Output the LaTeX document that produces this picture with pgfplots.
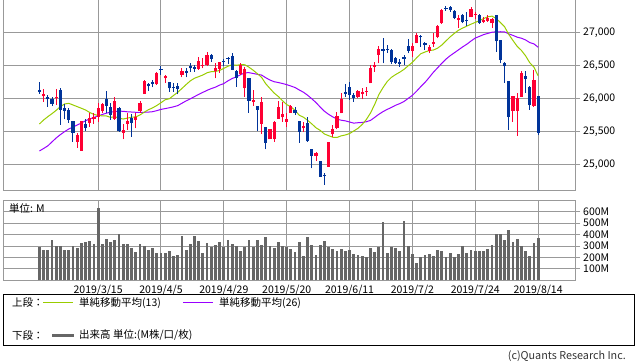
\documentclass[border=0pt]{standalone}
\usepackage{fontspec}
\setmainfont{Noto Sans CJK JP}
\usepackage{pgfplots}
\usepackage{pgfplotstable}
\pgfplotsset{compat=1.18}
\definecolor{gridgray}{HTML}{999999}
\definecolor{upc}{HTML}{FF0033}
\definecolor{dnc}{HTML}{003399}
\definecolor{smaA}{HTML}{99CC00}
\definecolor{smaB}{HTML}{9900FF}
\definecolor{volc}{HTML}{666666}
\newcommand{\tlf}{\fontsize{10.5bp}{12bp}\selectfont}

\pgfplotstableread{
i O H L C
1 26030 26146 25950 26058
4 26000 26136 25899 26026
9 25343 25480 25253 25450
10 25207 25662 25207 25651
12 25631 25783 25566 25703
13 25682 25773 25611 25710
14 25722 25924 25646 25849
15 25808 25924 25783 25914
18 25682 26025 25672 25963
20 25480 25611 25379 25517
21 25611 25773 25520 25658
23 25672 25773 25545 25717
24 25813 25960 25783 25929
25 26066 26278 26066 26258
28 26212 26404 26202 26385
30 26303 26354 26237 26341
34 26354 26455 26318 26412
38 26444 26621 26429 26560
39 26495 26606 26455 26511
40 26505 26697 26490 26656
42 26419 26540 26303 26462
43 26444 26556 26389 26543
48 26369 26530 26354 26505
49 26152 26480 26025 26438
51 25939 26126 25884 25967
53 25611 26015 25460 25942
55 25379 25540 25379 25532
56 25389 25657 25343 25648
57 25692 25960 25692 25863
58 25712 25950 25646 25764
59 25646 25773 25561 25680
60 25783 25899 25783 25877
63 25545 25646 25495 25586
66 25126 25192 25056 25170
69 24965 25343 24965 25332
70 25455 25596 25419 25540
71 25545 25798 25530 25732
72 25773 26076 25773 25984
76 26025 26126 26000 26107
77 26066 26152 25985 26090
78 26100 26167 26040 26113
79 26227 26505 26227 26466
80 26480 26556 26404 26504
81 26657 26793 26530 26753
89 26722 26833 26621 26787
90 26833 26985 26833 26966
93 26722 26808 26682 26783
94 26823 26995 26783 26860
95 26934 27111 26909 27088
96 27136 27348 27126 27332
100 27187 27263 27061 27223
103 27227 27379 27227 27349
104 27263 27313 27197 27270
106 27157 27237 27136 27192
107 27177 27263 27162 27221
108 27136 27212 27061 27198
113 25813 26035 25646 26030
114 25813 26076 25429 26007
115 26025 26414 26025 26378
118 25884 26429 25874 26280
}\upT

\pgfplotstableread{
i O H L C
0 26126 26241 26070 26092
2 26015 26050 25874 25985
3 25995 26025 25884 25916
5 26126 26152 25596 25820
6 25849 25914 25682 25807
7 25823 25849 25631 25673
8 25657 25660 25343 25473
11 25611 25687 25510 25555
16 25990 26116 25783 25887
17 25874 25924 25672 25746
19 25859 25874 25495 25502
22 25697 25758 25419 25626
26 26217 26237 26116 26179
27 26247 26278 26167 26218
29 26434 26490 26354 26425
31 26247 26250 26101 26151
32 26167 26227 26101 26157
33 26187 26237 26061 26143
35 26419 26455 26318 26385
36 26490 26540 26404 26453
37 26470 26505 26404 26450
41 26657 26672 26556 26597
44 26561 26591 26490 26554
45 26601 26621 26520 26593
46 26641 26682 26425 26430
47 26414 26429 26177 26308
50 26313 26313 25783 25965
52 25884 25884 25505 25828
54 25566 25566 25227 25325
61 25823 25874 25748 25777
62 25657 25657 25328 25490
64 25621 25712 25343 25348
65 25227 25227 24940 25126
67 25051 25051 24810 24815
68 24838 24864 24687 24820
73 26091 26217 26025 26063
74 26177 26253 25975 26049
75 26050 26076 25950 26005
82 26742 26909 26530 26719
83 26735 26808 26692 26728
84 26732 26742 26520 26548
85 26606 26621 26520 26537
86 26556 26591 26480 26527
87 26621 26657 26505 26600
88 26793 26894 26682 26717
91 26944 26960 26780 26922
92 26843 26859 26732 26806
97 27364 27399 27328 27359
98 27379 27399 27313 27336
99 27328 27338 27197 27220
101 27263 27278 27136 27154
102 27187 27313 27096 27172
105 27263 27278 27126 27141
109 27263 27263 26707 26864
110 26884 26884 26530 26583
111 26540 26556 26237 26485
112 26263 26263 25520 25718
116 26338 26414 26086 26287
117 26177 26187 25823 25896
119 26035 26035 25444 25479
}\dnT

\pgfplotstableread{
i a b
0 25611 25202
1 25672 25240
2 25722 25280
3 25768 25340
4 25818 25400
5 25874 25450
6 25914 25495
7 25924 25535
8 25899 25565
9 25874 25595
10 25849 25625
11 25823 25660
12 25785 25688
13 25756 25710
14 25740 25732
15 25734 25755
16 25732 25775
17 25711 25790
18 25722 25800
19 25698 25805
20 25686 25803
21 25700 25795
22 25714 25792
23 25719 25788
24 25748 25785
25 25790 25788
26 25827 25791
27 25855 25797
28 25891 25813
29 25933 25832
30 25978 25844
31 25993 25857
32 26043 25871
33 26091 25889
34 26149 25925
35 26208 25961
36 26264 25992
37 26304 26026
38 26328 26059
39 26353 26090
40 26387 26121
41 26403 26147
42 26406 26169
43 26422 26200
44 26453 26223
45 26486 26265
46 26508 26300
47 26500 26325
48 26509 26358
49 26508 26386
50 26471 26388
51 26425 26376
52 26373 26363
53 26318 26352
54 26220 26312
55 26149 26277
56 26080 26251
57 26027 26239
58 25963 26224
59 25905 26207
60 25872 26186
61 25816 26163
62 25743 26126
63 25714 26092
64 25666 26046
65 25612 25992
66 25553 25935
67 25514 25867
68 25459 25804
69 25434 25757
70 25410 25718
71 25407 25685
72 25431 25668
73 25445 25658
74 25466 25641
75 25505 25624
76 25545 25630
77 25602 25634
78 25678 25645
79 25778 25665
80 25908 25711
81 26057 25758
82 26163 25799
83 26255 25832
84 26318 25862
85 26360 25895
86 26396 25920
87 26438 25952
88 26493 25999
89 26545 26045
90 26613 26108
91 26675 26177
92 26701 26240
93 26723 26315
94 26731 26394
95 26759 26461
96 26806 26530
97 26868 26593
98 26930 26645
99 26983 26689
100 27031 26734
101 27064 26779
102 27094 26820
103 27123 26868
104 27150 26913
105 27176 26938
106 27207 26965
107 27235 26983
108 27244 27001
109 27208 27007
110 27148 27008
111 27083 27006
112 26967 26975
113 26875 26953
114 26787 26926
115 26726 26910
116 26644 26884
117 26539 26844
118 26472 26824
119 26341 26774
}\smaT

\pgfplotstableread{
i v
0 294
1 265
2 265
3 353
4 303
5 303
6 265
7 265
8 303
9 286
10 329
11 338
12 347
13 318
14 635
15 318
16 362
17 338
18 353
19 405
20 318
21 318
22 286
23 251
24 318
25 303
26 265
27 286
28 236
29 239
30 239
31 257
32 213
33 222
34 388
35 265
36 318
37 388
38 347
39 239
40 324
41 292
42 306
43 332
44 292
45 351
46 316
47 302
48 256
49 292
50 351
51 292
52 351
53 308
54 375
55 300
56 283
57 332
58 300
59 292
60 271
61 249
62 332
63 212
64 375
65 308
66 221
67 308
68 342
69 291
70 273
71 256
72 273
73 256
74 264
75 230
76 221
77 212
78 204
79 282
80 248
81 292
82 513
83 239
84 292
85 283
86 257
87 519
88 303
89 230
90 152
91 204
92 222
93 230
94 213
95 265
96 257
97 204
98 239
99 204
100 230
101 303
102 239
103 265
104 257
105 257
106 257
107 274
108 309
109 405
110 405
111 356
112 440
113 335
114 364
115 303
116 257
117 213
118 327
119 373
}\volT

\begin{document}
\begin{tikzpicture}
\path[use as bounding box] (0,0) rectangle (638bp,-362bp);

% ---------- price panel ----------
\begin{axis}[
  at={(3bp,-190bp)}, anchor=south west,
  scale only axis, width=572bp, height=191bp,
  xmin=-8.7, xmax=127.8, ymin=24611, ymax=27504,
  axis line style={draw=gridgray, line width=1bp},
  xtick={14,29,44,59,74,89,104,119}, xticklabels={},
  ytick={25000,25500,26000,26500,27000},
  xmajorgrids, ymajorgrids,
  major grid style={draw=gridgray, line width=1bp},
  ytick pos=right, yticklabel pos=right,
  x tick style={draw=none},
  y tick style={draw=gridgray, line width=1bp},
  tick align=outside, major tick length=5bp,
  scaled y ticks=false,
  /pgf/number format/fixed,
  /pgf/number format/1000 sep={,},
  /pgf/number format/assume math mode=true,
  yticklabel style={font=\tlf, inner sep=1bp, xshift=2bp},
  clip=true,
]
\addplot[smaB, line width=1bp, mark=none] table[x=i, y=b] {\smaT};
\addplot[smaA, line width=1bp, mark=none] table[x=i, y=a] {\smaT};
% wicks
\addplot[draw=none, mark=none, forget plot,
  error bars/.cd, y dir=plus, y explicit, error mark=none,
  error bar style={line width=1bp, draw=upc}]
  table[x=i, y=L, y error plus expr={\thisrow{H}-\thisrow{L}}] {\upT};
\addplot[draw=none, mark=none, forget plot,
  error bars/.cd, y dir=plus, y explicit, error mark=none,
  error bar style={line width=1bp, draw=dnc}]
  table[x=i, y=L, y error plus expr={\thisrow{H}-\thisrow{L}}] {\dnT};
% bodies
\addplot[draw=none, mark=none, forget plot,
  error bars/.cd, y dir=plus, y explicit, error mark=none,
  error bar style={line width=3.2bp, draw=upc}]
  table[x=i, y=O, y error plus expr={max(\thisrow{C}-\thisrow{O},15)}] {\upT};
\addplot[draw=none, mark=none, forget plot,
  error bars/.cd, y dir=plus, y explicit, error mark=none,
  error bar style={line width=3.2bp, draw=dnc}]
  table[x=i, y=C, y error plus expr={max(\thisrow{O}-\thisrow{C},15)}] {\dnT};
\end{axis}

% ---------- volume panel ----------
\begin{axis}[
  at={(3bp,-280.3bp)}, anchor=south west,
  scale only axis, width=572bp, height=80bp,
  xmin=-8.7, xmax=127.8, ymin=0, ymax=700,
  axis line style={draw=gridgray, line width=1bp},
  xtick={14,29,44,59,74,89,104,119},
  xticklabels={2019/3/15,2019/4/5,2019/4/29,2019/5/20,2019/6/11,2019/7/2,2019/7/24,2019/8/14},
  ytick={100,200,300,400,500,600},
  yticklabels={100M,200M,300M,400M,500M,600M},
  xmajorgrids, ymajorgrids,
  major grid style={draw=gridgray, line width=1bp},
  ytick pos=right, yticklabel pos=right,
  x tick style={draw=none},
  y tick style={draw=gridgray, line width=1bp},
  tick align=outside, major tick length=5bp,
  yticklabel style={font=\tlf, inner sep=1bp, xshift=2bp},
  xticklabel style={font=\tlf, inner sep=0bp, anchor=north},
]
\addplot[ycomb, draw=volc, line width=2.8bp, mark=none] table[x=i, y=v] {\volT};
\end{axis}

\node[anchor=west, inner sep=0pt, font=\tlf] at (9bp,-208.5bp) {単位: M};

% ---------- legend box ----------
\draw[black, line width=1bp] (3.3bp,-294.3bp) rectangle (634.7bp,-345.7bp);
\node[anchor=west, inner sep=0pt, font=\tlf] at (12bp,-303bp) {上段：};
\draw[smaA, line width=1bp] (43bp,-302.5bp) -- (73bp,-302.5bp);
\node[anchor=west, inner sep=0pt, font=\tlf] at (79bp,-303bp) {単純移動平均(13)};
\draw[smaB, line width=1bp] (183bp,-302.5bp) -- (213bp,-302.5bp);
\node[anchor=west, inner sep=0pt, font=\tlf] at (219bp,-303bp) {単純移動平均(26)};
\node[anchor=west, inner sep=0pt, font=\tlf] at (12bp,-335.5bp) {下段：};
\draw[volc, line width=3bp] (52bp,-335bp) -- (74bp,-335bp);
\node[anchor=west, inner sep=0pt, font=\tlf] at (79bp,-335.5bp) {出来高 単位:(M株/口/枚)};
\node[anchor=east, inner sep=0pt, font=\fontsize{10.8bp}{12bp}\selectfont, text=black!80] at (626bp,-356.5bp) {(c)Quants Research Inc.};
\end{tikzpicture}
\end{document}
